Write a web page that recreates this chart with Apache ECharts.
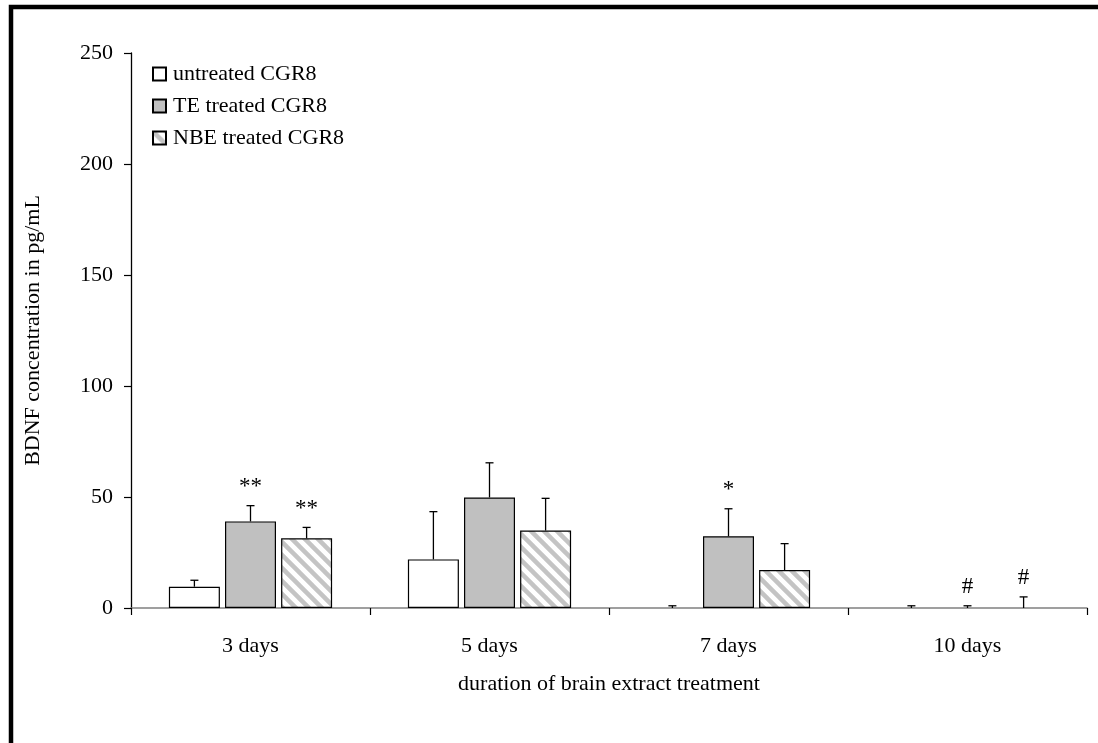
<!DOCTYPE html>
<html>
<head>
<meta charset="utf-8">
<script src="https://cdn.jsdelivr.net/npm/echarts@6/dist/echarts.min.js"></script>
<style>
html,body{margin:0;padding:0;background:#fff;}
#chart{width:1098px;height:743px;}
</style>
</head>
<body>
<div id="chart"></div>
<script>
// ---- data ----
const categories = ['3 days', '5 days', '7 days', '10 days'];
const seriesNames = ['untreated CGR8', 'TE treated CGR8', 'NBE treated CGR8'];
const untreated = [9.6, 21.9, 0, 0];
const untreatedErr = [2.9, 21.5, 1, 1];
const te = [39.0, 49.8, 32.3, 0];
const teErr = [7.1, 15.6, 12.4, 1];
const nbe = [31.4, 34.9, 17.1, 0];
const nbeErr = [4.9, 14.5, 11.9, 5];
const untreatedMarks = ['', '', '', ''];
const teMarks = ['**', '', '*', '#'];
const nbeMarks = ['**', '', '', '#'];
const yTicks = [0, 50, 100, 150, 200, 250];

// ---- style ----
const FONT = 'Liberation Serif, Times New Roman, serif';
const FS = 22;
const BAR_W = 51;
const GAP_FRAC = 0.1;

function hatch() {
  const s = 13;
  const c = document.createElement('canvas');
  c.width = s; c.height = s;
  const ctx = c.getContext('2d');
  ctx.fillStyle = '#ffffff';
  ctx.fillRect(0, 0, s, s);
  ctx.strokeStyle = '#c4c4c4';
  ctx.lineWidth = 4.5;
  for (let k = -2; k <= 2; k++) {
    ctx.beginPath();
    ctx.moveTo(k * s - 2, -2);
    ctx.lineTo(k * s + s + 2, s + 2);
    ctx.stroke();
  }
  return c;
}

const fills = ['#ffffff', '#c0c0c0', { image: hatch(), repeat: 'repeat' }];
const means = [untreated, te, nbe];
const errs = [untreatedErr, teErr, nbeErr];
const marks = [untreatedMarks, teMarks, nbeMarks];

const barSeries = seriesNames.map((name, i) => ({
  name: name,
  type: 'bar',
  data: means[i].map(v => v === 0 ? { value: v, itemStyle: { borderWidth: 0 } } : v),
  barWidth: BAR_W,
  barGap: (GAP_FRAC * 100) + '%',
  barCategoryGap: '30%',
  itemStyle: { color: fills[i], borderColor: '#000', borderWidth: 1.2 },
  z: 2
}));

const errSeries = seriesNames.map((name, i) => ({
  type: 'custom',
  name: name + ' err',
  z: 5,
  silent: true,
  data: categories.map((c, j) => [j, means[i][j], means[i][j] + errs[i][j], marks[i][j]]),
  renderItem: function (params, api) {
    const off = (i - 1) * BAR_W * (1 + GAP_FRAC);
    const base = api.coord([api.value(0), api.value(1)]);
    const top = api.coord([api.value(0), api.value(2)]);
    const x = base[0] + off;
    const cap = 4;
    const children = [
      { type: 'line', shape: { x1: x, y1: base[1], x2: x, y2: top[1] }, style: { stroke: '#000', lineWidth: 1.3 } },
      { type: 'line', shape: { x1: x - cap, y1: top[1], x2: x + cap, y2: top[1] }, style: { stroke: '#000', lineWidth: 1.3 } }
    ];
    const m = marks[i][params.dataIndex];
    if (m) {
      children.push({
        type: 'text',
        style: {
          text: m, x: x, y: top[1] - 7,
          align: 'center', verticalAlign: 'bottom',
          font: '23px ' + FONT, fill: '#000'
        }
      });
    }
    return { type: 'group', children: children };
  }
}));

const chart = echarts.init(document.getElementById('chart'), null, { renderer: 'canvas' });
chart.setOption({
  backgroundColor: '#fff',
  animation: false,
  textStyle: { fontFamily: FONT, color: '#000' },
  grid: { left: 131, right: 11, top: 53, bottom: 135, containLabel: false },
  graphic: [{
    type: 'rect', silent: true,
    shape: { x: 11, y: 7, width: 2000, height: 2000 },
    style: { fill: 'none', stroke: '#000', lineWidth: 4.5 }
  }],
  legend: {
    data: seriesNames,
    orient: 'vertical',
    left: 152, top: 63,
    padding: 0,
    itemWidth: 13, itemHeight: 13, itemGap: 10,
    icon: 'rect',
    textStyle: { fontFamily: FONT, fontSize: FS, color: '#000', padding: [0, 0, 0, 2] }
  },
  xAxis: {
    type: 'category',
    data: categories,
    name: 'duration of brain extract treatment',
    nameLocation: 'middle',
    nameGap: 65,
    nameTextStyle: { fontFamily: FONT, fontSize: FS, color: '#000' },
    axisLine: { lineStyle: { color: '#808080', width: 1.5 } },
    axisTick: { show: true, length: 7, lineStyle: { color: '#000', width: 1.2 } },
    axisLabel: { fontFamily: FONT, fontSize: FS, color: '#000', margin: 27 }
  },
  yAxis: {
    type: 'value',
    min: yTicks[0], max: yTicks[yTicks.length - 1], interval: yTicks[1] - yTicks[0],
    name: 'BDNF concentration in pg/mL',
    nameLocation: 'middle',
    nameGap: 87,
    nameTextStyle: { fontFamily: FONT, fontSize: FS, color: '#000' },
    axisLine: { show: true, lineStyle: { color: '#000', width: 1.3 } },
    axisTick: { show: true, length: 7, lineStyle: { color: '#000', width: 1.2 } },
    axisLabel: { fontFamily: FONT, fontSize: FS, color: '#000', margin: 18 },
    splitLine: { show: false }
  },
  series: barSeries.concat(errSeries)
});
</script>
</body>
</html>
